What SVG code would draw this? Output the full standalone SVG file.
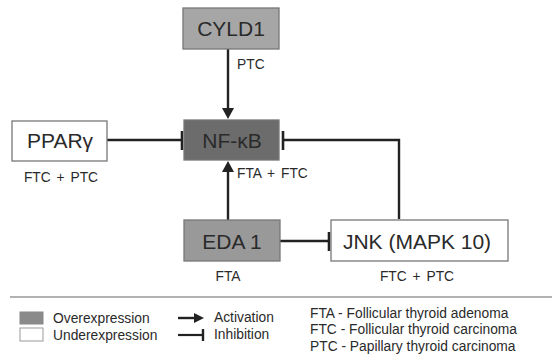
<svg xmlns="http://www.w3.org/2000/svg" width="552" height="359" viewBox="0 0 552 359">
<style>
text{font-family:"Liberation Sans",Arial,sans-serif;fill:#2a2a2a}
.big{font-size:21px;text-anchor:middle}
.sm{font-size:13.8px;word-spacing:2px}
.lg{font-size:13.8px}
.box{stroke:#777;stroke-width:1.3}
.ln{stroke:#222;stroke-width:2.4;fill:none}
.bar{stroke:#222;stroke-width:2.6}
</style>
<rect width="552" height="359" fill="#fff"/>
<g id="connectors">
<line class="ln" x1="228" y1="49" x2="228" y2="110"/>
<polygon points="222,108 234,108 228,119" fill="#222"/>
<line class="ln" x1="228" y1="220" x2="228" y2="170"/>
<polygon points="222,172 234,172 228,161" fill="#222"/>
<line class="ln" x1="107" y1="140" x2="182" y2="140"/>
<line class="bar" x1="182" y1="131" x2="182" y2="150"/>
<polyline class="ln" points="399,219 399,140 283,140"/>
<line class="bar" x1="283" y1="131" x2="283" y2="150"/>
<line class="ln" x1="280" y1="241" x2="329" y2="241"/>
<line class="bar" x1="329" y1="232" x2="329" y2="251"/>
</g>
<g id="cyld1">
<rect class="box" x="183" y="8" width="96" height="41" fill="#a6a6a6"/>
<text class="big" x="231" y="36">CYLD1</text>
<text class="sm" x="237" y="69">PTC</text>
</g>
<g id="nfkb">
<rect class="box" x="184" y="120" width="95" height="40" fill="#6c6c6c"/>
<text class="big" x="232" y="148">NF-κB</text>
<text class="sm" x="237" y="178">FTA + FTC</text>
</g>
<g id="ppar">
<rect class="box" x="12" y="121" width="95" height="40" fill="#fff"/>
<text class="big" x="60" y="148">PPARγ</text>
<text class="sm" x="61" y="182" text-anchor="middle">FTC + PTC</text>
</g>
<g id="eda1">
<rect class="box" x="184" y="220" width="96" height="41" fill="#999"/>
<text class="big" x="232" y="249">EDA 1</text>
<text class="sm" x="228" y="281" text-anchor="middle">FTA</text>
</g>
<g id="jnk">
<rect class="box" x="331" y="220" width="177" height="41" fill="#fff"/>
<text class="big" x="417" y="249">JNK (MAPK 10)</text>
<text class="sm" x="417" y="281" text-anchor="middle">FTC + PTC</text>
</g>
<g id="legend">
<line x1="10" y1="297" x2="552" y2="297" stroke="#999" stroke-width="1.5"/>
<rect x="20" y="312" width="23" height="12" fill="#8a8a8a" stroke="#888" stroke-width="1"/>
<rect x="20" y="328" width="23" height="13" fill="#fff" stroke="#999" stroke-width="1"/>
<text class="lg" x="53" y="323">Overexpression</text>
<text class="lg" x="53" y="340">Underexpression</text>
<line x1="178" y1="318" x2="196" y2="318" stroke="#222" stroke-width="2.4"/>
<polygon points="194,313 194,323 204,318" fill="#222"/>
<line x1="178" y1="335" x2="203" y2="335" stroke="#222" stroke-width="2.2"/>
<line x1="203" y1="329" x2="203" y2="341" stroke="#222" stroke-width="2.4"/>
<text class="lg" x="214" y="322">Activation</text>
<text class="lg" x="214" y="339">Inhibition</text>
<text class="lg" x="310" y="318">FTA - Follicular thyroid adenoma</text>
<text class="lg" x="310" y="334">FTC - Follicular thyroid carcinoma</text>
<text class="lg" x="310" y="351">PTC - Papillary thyroid carcinoma</text>
</g>
</svg>
